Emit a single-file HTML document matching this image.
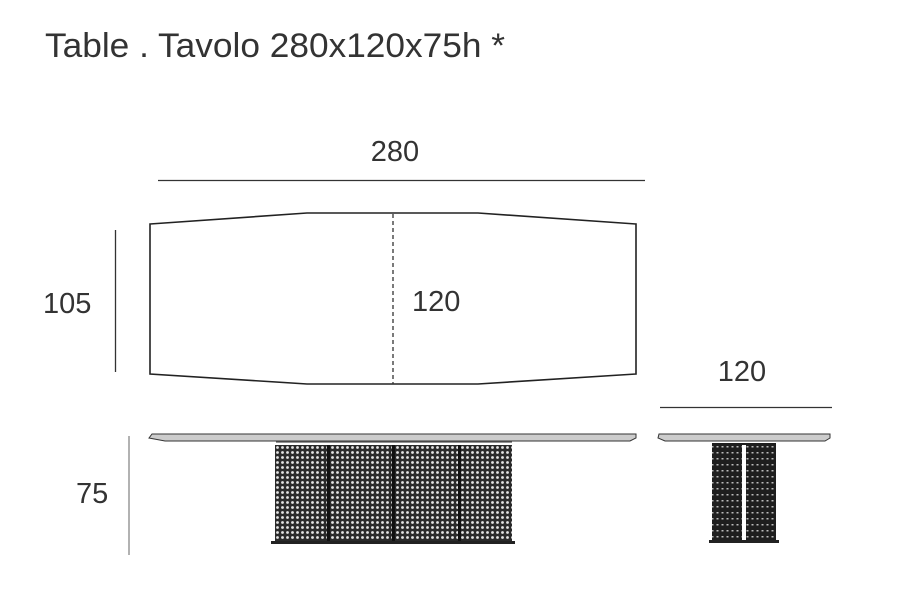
<!DOCTYPE html>
<html><head><meta charset="utf-8"><style>
html,body{margin:0;padding:0;background:#fff;}
svg{display:block}
text{font-family:"Liberation Sans",sans-serif;fill:#333;}
</style></head><body>
<svg width="914" height="589" viewBox="0 0 914 589" xmlns="http://www.w3.org/2000/svg">
<defs>
<pattern id="dots" width="5" height="5" patternUnits="userSpaceOnUse">
<rect width="5" height="5" fill="#2a2a2a"/>
<circle cx="2.5" cy="2.5" r="1.4" fill="#e4e4e4"/>
</pattern>
<pattern id="dots2" width="5" height="6" patternUnits="userSpaceOnUse">
<rect width="5" height="6" fill="#1e1e1e"/>
<rect x="1.5" y="2" width="2" height="1.5" fill="#bbb"/>
</pattern>
</defs>
<text x="45" y="57" font-size="34" textLength="460" lengthAdjust="spacingAndGlyphs">Table . Tavolo 280x120x75h *</text>
<text x="395" y="161" font-size="29" text-anchor="middle">280</text>
<line x1="158" y1="180.5" x2="645" y2="180.5" stroke="#333" stroke-width="1.3"/>
<line x1="115.5" y1="230" x2="115.5" y2="372" stroke="#333" stroke-width="1.3"/>
<text x="43" y="313" font-size="29">105</text>
<polygon points="150,224 307,213 478,213 636,224 636,374 478,384 307,384 150,374" fill="none" stroke="#222" stroke-width="1.6"/>
<line x1="393" y1="214" x2="393" y2="384" stroke="#333" stroke-width="1.3" stroke-dasharray="4,3"/>
<text x="412" y="311" font-size="29">120</text>
<text x="742" y="381" font-size="29" text-anchor="middle">120</text>
<line x1="660" y1="407.5" x2="832" y2="407.5" stroke="#333" stroke-width="1.3"/>
<line x1="129" y1="436" x2="129" y2="555" stroke="#999" stroke-width="1.5"/>
<text x="76" y="503" font-size="29">75</text>
<polygon points="152,434 636,434 636,438 630,441 165,441 149,438" fill="#ccc" stroke="#333" stroke-width="1"/>
<line x1="276" y1="442" x2="512" y2="442" stroke="#555" stroke-width="1.2"/>
<rect x="275" y="445" width="237" height="96" fill="url(#dots)"/>
<rect x="327" y="445" width="3" height="96" fill="#111"/>
<rect x="392" y="445" width="3" height="96" fill="#111"/>
<rect x="458" y="445" width="3" height="96" fill="#111"/>
<rect x="271" y="541" width="244" height="3" fill="#222"/>
<polygon points="659,434 830,434 830,438 825,441 665,441 658,438" fill="#ccc" stroke="#333" stroke-width="1"/>
<rect x="712" y="443" width="64" height="97" fill="url(#dots2)"/>
<rect x="742" y="445" width="4" height="95" fill="#fff"/>
<rect x="709" y="540" width="70" height="3" fill="#222"/>
</svg>
</body></html>
